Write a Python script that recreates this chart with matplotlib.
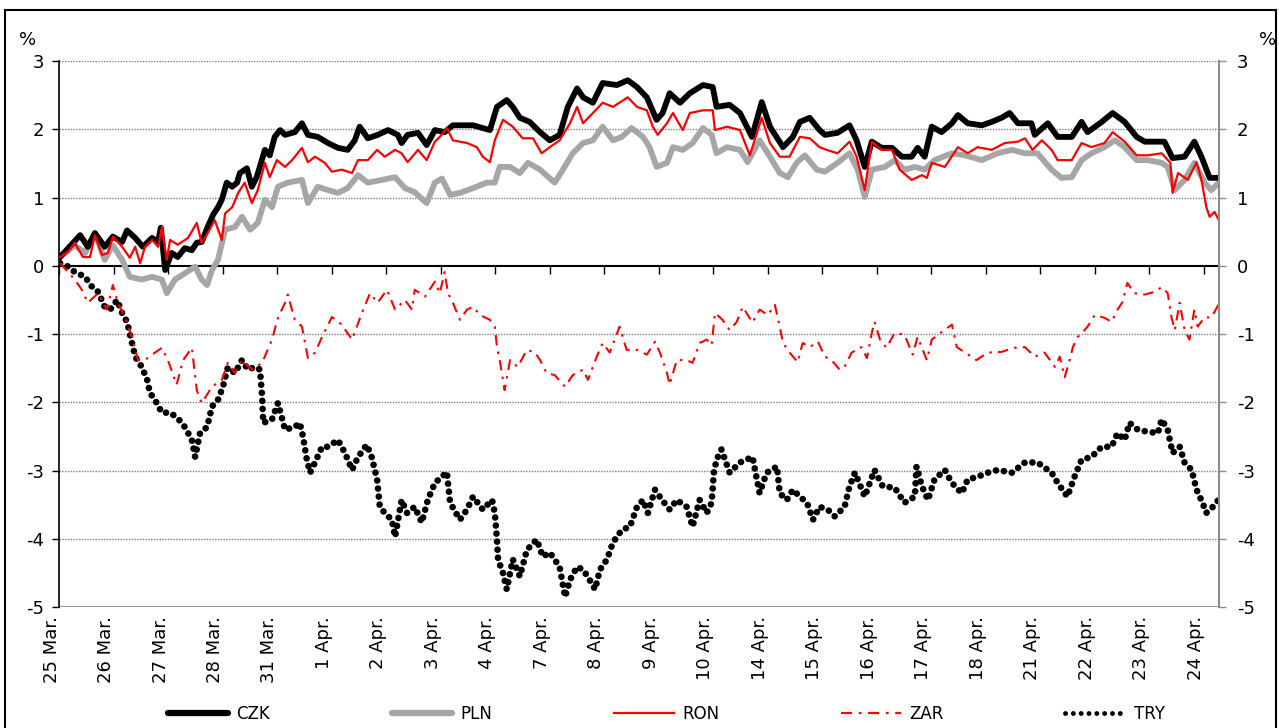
import matplotlib
matplotlib.use("Agg")
import matplotlib.pyplot as plt
from matplotlib import transforms
from matplotlib.patches import Rectangle
from matplotlib.lines import Line2D

plt.rcParams['font.family'] = ['DejaVu Sans']
plt.rcParams['axes.unicode_minus'] = False

# ---------------- data (trading-day index since 25 Mar, % change) ----------------
day_labels = ["25 Mar.", "26 Mar.", "27 Mar.", "28 Mar.", "31 Mar.", "1 Apr.", "2 Apr.",
              "3 Apr.", "4 Apr.", "7 Apr.", "8 Apr.", "9 Apr.", "10 Apr.", "14 Apr.",
              "15 Apr.", "16 Apr.", "17 Apr.", "18 Apr.", "21 Apr.", "22 Apr.", "23 Apr.",
              "24 Apr."]

czk_t = [0.01, 0.38, 0.52, 0.65, 0.83, 0.98, 1.15, 1.24, 1.39, 1.53, 1.70, 1.81, 1.86, 1.94,
         2.06, 2.17, 2.30, 2.43, 2.52, 2.61, 2.72, 2.82, 2.91, 2.98, 3.07, 3.17, 3.26, 3.31,
         3.44, 3.53, 3.62, 3.77, 3.86, 3.95, 4.05, 4.14, 4.32, 4.45, 4.56, 4.74, 4.93, 5.11,
         5.29, 5.42, 5.51, 5.66, 5.84, 6.03, 6.21, 6.28, 6.39, 6.58, 6.74, 6.89, 7.07, 7.22,
         7.59, 7.90, 8.03, 8.21, 8.32, 8.45, 8.63, 8.82, 9.00, 9.18, 9.33, 9.50, 9.61, 9.79,
         9.97, 10.23, 10.43, 10.60, 10.78, 10.96, 11.07, 11.20, 11.39, 11.57, 11.81, 11.99,
         12.06, 12.30, 12.49, 12.71, 12.89, 13.04, 13.28, 13.46, 13.59, 13.77, 13.95, 14.05,
         14.28, 14.50, 14.63, 14.78, 14.91, 15.09, 15.28, 15.46, 15.64, 15.75, 15.88, 16.01,
         16.19, 16.38, 16.49, 16.67, 16.93, 17.11, 17.29, 17.44, 17.59, 17.84, 17.90, 18.14,
         18.32, 18.58, 18.76, 18.87, 19.13, 19.33, 19.55, 19.77, 19.92, 20.16, 20.28, 20.43,
         20.65, 20.83, 20.96, 21.11, 21.28]
czk_v = [0.13, 0.45, 0.28, 0.48, 0.28, 0.43, 0.35, 0.52, 0.41, 0.28, 0.41, 0.35, 0.56, -0.06,
         0.19, 0.13, 0.26, 0.23, 0.34, 0.35, 0.57, 0.75, 0.86, 0.97, 1.22, 1.16, 1.22, 1.36,
         1.43, 1.16, 1.30, 1.70, 1.62, 1.89, 1.99, 1.92, 1.96, 2.09, 1.92, 1.89, 1.80, 1.73,
         1.70, 1.84, 2.04, 1.87, 1.92, 1.99, 1.92, 1.80, 1.92, 1.95, 1.77, 1.99, 1.96, 2.06,
         2.06, 1.99, 2.33, 2.43, 2.33, 2.17, 2.11, 1.96, 1.84, 1.92, 2.33, 2.60, 2.47, 2.39,
         2.68, 2.65, 2.72, 2.62, 2.47, 2.14, 2.24, 2.53, 2.39, 2.53, 2.65, 2.62,
         2.33, 2.36, 2.24, 1.89, 2.40, 2.04, 1.74, 1.89, 2.11, 2.17, 1.99, 1.92,
         1.95, 2.06, 1.84, 1.45, 1.82, 1.73, 1.73, 1.60, 1.60, 1.73, 1.60, 2.04,
         1.96, 2.09, 2.21, 2.09, 2.06, 2.11, 2.17, 2.24, 2.09, 2.09, 1.92, 2.09,
         1.89, 1.89, 2.11, 1.96, 2.11, 2.24, 2.11, 1.89, 1.82, 1.82, 1.82, 1.58,
         1.60, 1.82, 1.60, 1.29, 1.29]

pln_t = [0.01, 0.28, 0.47, 0.65, 0.83, 0.98, 1.15, 1.29, 1.51, 1.70, 1.88, 1.97, 2.12, 2.30,
         2.49, 2.61, 2.71, 2.80, 2.91, 3.04, 3.22, 3.35, 3.50, 3.64, 3.77, 3.90, 4.01, 4.19,
         4.45, 4.56, 4.74, 4.93, 5.11, 5.29, 5.48, 5.66, 5.92, 6.16, 6.34, 6.52, 6.74, 6.89,
         7.02, 7.17, 7.35, 7.59, 7.84, 7.99, 8.08, 8.27, 8.45, 8.60, 8.82, 9.09, 9.24, 9.42,
         9.61, 9.79, 9.97, 10.16, 10.32, 10.50, 10.71, 10.83, 10.96, 11.15, 11.26, 11.44,
         11.62, 11.81, 11.97, 12.06, 12.25, 12.49, 12.63, 12.85, 13.04, 13.22, 13.37, 13.53,
         13.68, 13.90, 14.05, 14.28, 14.50, 14.65, 14.78, 14.91, 15.15, 15.33, 15.51, 15.70,
         15.88, 16.06, 16.38, 16.62, 16.93, 17.22, 17.48, 17.72, 17.95, 18.21, 18.39, 18.58,
         18.76, 18.94, 19.18, 19.37, 19.55, 19.77, 19.97, 20.23, 20.34, 20.47, 20.65, 20.83,
         21.02, 21.14, 21.28]
pln_v = [0.13, 0.30, 0.19, 0.48, 0.09, 0.30, 0.09, -0.16, -0.20, -0.16, -0.20, -0.40, -0.20,
         -0.11, -0.01, -0.20, -0.28, -0.06, 0.09, 0.53, 0.57, 0.72, 0.53, 0.63, 0.97, 0.86,
         1.16, 1.22, 1.26, 0.92, 1.16, 1.11, 1.07, 1.14, 1.33, 1.22, 1.26, 1.30, 1.14, 1.08,
         0.92, 1.22, 1.28, 1.04, 1.07, 1.14, 1.22, 1.22, 1.45, 1.45, 1.36, 1.51, 1.41, 1.22,
         1.41, 1.65, 1.80, 1.84, 2.04, 1.84, 1.89, 2.02, 1.89, 1.74, 1.45, 1.51, 1.74, 1.70,
         1.80, 2.02, 1.92, 1.65, 1.74, 1.70, 1.52, 1.84, 1.60, 1.36, 1.30, 1.51, 1.62, 1.41,
         1.38, 1.51, 1.65, 1.41, 1.01, 1.41, 1.45, 1.55, 1.41, 1.45, 1.41, 1.55, 1.65, 1.62,
         1.55, 1.65, 1.70, 1.65, 1.65, 1.41, 1.29, 1.30, 1.55, 1.65, 1.74, 1.84, 1.74, 1.55,
         1.55, 1.51, 1.45, 1.11, 1.26, 1.51, 1.22, 1.11, 1.22]

ron_t = [0.01, 0.16, 0.28, 0.43, 0.56, 0.65, 0.78, 0.89, 0.98, 1.15, 1.29, 1.39, 1.48, 1.57,
         1.70, 1.81, 1.88, 1.97, 2.03, 2.17, 2.36, 2.52, 2.61, 2.72, 2.85, 2.98, 3.04, 3.17,
         3.28, 3.40, 3.53, 3.64, 3.77, 3.86, 3.99, 4.14, 4.27, 4.45, 4.56, 4.69, 4.87, 5.00,
         5.18, 5.37, 5.48, 5.66, 5.83, 5.97, 6.16, 6.28, 6.39, 6.58, 6.74, 6.89, 6.98, 7.11,
         7.22, 7.48, 7.66, 7.77, 7.90, 7.99, 8.14, 8.32, 8.50, 8.69, 8.85, 9.00, 9.18, 9.37,
         9.50, 9.61, 9.79, 9.97, 10.16, 10.43, 10.60, 10.78, 10.89, 10.98, 11.15, 11.26,
         11.44, 11.57, 11.81, 11.99, 12.03, 12.25, 12.49, 12.67, 12.89, 13.04, 13.22, 13.40,
         13.59, 13.77, 13.95, 14.08, 14.28, 14.50, 14.63, 14.78, 14.91, 15.09, 15.28, 15.42,
         15.64, 15.83, 15.92, 16.01, 16.25, 16.49, 16.67, 16.85, 17.11, 17.35, 17.59, 17.72,
         17.86, 18.03, 18.21, 18.32, 18.58, 18.76, 18.94, 19.18, 19.33, 19.55, 19.77, 19.97,
         20.23, 20.39, 20.43, 20.53, 20.71, 20.87, 20.96, 21.05, 21.11, 21.20, 21.28]
ron_v = [0.13, 0.21, 0.34, 0.13, 0.13, 0.45, 0.16, 0.19, 0.43, 0.28, 0.12, 0.28, 0.04, 0.28,
         0.38, 0.28, 0.57, 0.09, 0.38, 0.31, 0.41, 0.63, 0.34, 0.48, 0.67, 0.38, 0.77, 0.86,
         1.07, 1.22, 0.92, 1.11, 1.51, 1.30, 1.55, 1.45, 1.55, 1.73, 1.52, 1.60, 1.51, 1.38,
         1.41, 1.36, 1.55, 1.55, 1.70, 1.60, 1.70, 1.65, 1.52, 1.70, 1.55, 1.82, 1.89, 2.02,
         1.84, 1.80, 1.74, 1.60, 1.52, 1.84, 2.14, 2.04, 1.87, 1.87, 1.65, 1.74, 1.84, 2.09,
         2.33, 2.09, 2.24, 2.39, 2.33, 2.47, 2.33, 2.28, 2.04, 1.92, 2.09, 2.24,
         1.99, 2.24, 2.28, 2.28, 1.99, 2.04, 1.99, 1.62, 2.17, 1.80, 1.60, 1.60,
         1.89, 1.87, 1.74, 1.70, 1.65, 1.82, 1.60, 1.11, 1.82, 1.70, 1.70, 1.41,
         1.26, 1.33, 1.29, 1.51, 1.45, 1.74, 1.65, 1.74, 1.70, 1.80, 1.82, 1.87,
         1.70, 1.84, 1.70, 1.55, 1.55, 1.80, 1.74, 1.80, 1.96, 1.82, 1.62, 1.62,
         1.65, 1.51, 1.07, 1.36, 1.26, 1.52, 1.26, 0.86, 0.72, 0.79, 0.67]

zar_t = [0.01, 0.28, 0.41, 0.52, 0.71, 0.87, 0.98, 1.07, 1.20, 1.33, 1.44, 1.57, 1.70, 1.88,
         1.99, 2.15, 2.27, 2.43, 2.52, 2.61, 2.80, 2.98, 3.09, 3.22, 3.35, 3.53, 3.72, 3.90,
         4.01, 4.14, 4.19, 4.32, 4.45, 4.56, 4.69, 4.82, 5.00, 5.18, 5.37, 5.55, 5.70, 5.84,
         6.01, 6.16, 6.34, 6.47, 6.52, 6.71, 6.89, 6.98, 7.07, 7.13, 7.22, 7.35, 7.48, 7.59,
         7.72, 7.90, 7.99, 8.03, 8.08, 8.17, 8.27, 8.41, 8.58, 8.73, 8.82, 8.94, 9.09, 9.28,
         9.42, 9.61, 9.70, 9.86, 9.97, 10.10, 10.28, 10.41, 10.60, 10.78, 10.93, 11.02, 11.15,
         11.20, 11.33, 11.51, 11.62, 11.75, 11.88, 11.97, 12.03, 12.17, 12.30, 12.43, 12.54,
         12.72, 12.85, 13.00, 13.13, 13.22, 13.28, 13.40, 13.55, 13.64, 13.77, 13.92, 14.05,
         14.17, 14.32, 14.41, 14.54, 14.72, 14.82, 14.91, 14.96, 15.06, 15.18, 15.33, 15.51,
         15.66, 15.75, 15.92, 16.01, 16.19, 16.38, 16.47, 16.62, 16.83, 17.04, 17.29, 17.53,
         17.72, 17.90, 18.08, 18.27, 18.36, 18.45, 18.54, 18.60, 18.69, 18.78, 18.87, 19.00,
         19.18, 19.31, 19.42, 19.51, 19.60, 19.73, 19.92, 20.10, 20.23, 20.34, 20.41, 20.47,
         20.56, 20.65, 20.74, 20.83, 20.89, 21.02, 21.14, 21.27]
zar_v = [0.04, -0.20, -0.35, -0.54, -0.40, -0.64, -0.28, -0.54, -0.75, -1.04, -1.38, -1.38,
         -1.30, -1.20, -1.38, -1.74, -1.38, -1.20, -1.82, -2.01, -1.77, -1.67, -1.42, -1.57,
         -1.38, -1.52, -1.42, -1.08, -0.76, -0.54, -0.42, -0.79, -0.89, -1.35, -1.27, -1.04,
         -0.75, -0.86, -1.08, -0.69, -0.40, -0.54, -0.35, -0.64, -0.50, -0.64, -0.35, -0.45,
         -0.23, -0.40, -0.09, -0.40, -0.54, -0.79, -0.64, -0.60, -0.72, -0.79, -0.89, -1.19,
         -1.38, -1.82, -1.38, -1.48, -1.23, -1.27, -1.38, -1.57, -1.60, -1.77, -1.60, -1.52,
         -1.67, -1.33, -1.13, -1.27, -0.89, -1.23, -1.23, -1.30, -1.11, -1.27, -1.57, -1.74,
         -1.38, -1.38, -1.42, -1.13, -1.08, -1.16, -0.69, -0.79, -0.94, -0.82, -0.60, -0.83,
         -0.64, -0.72, -0.57, -0.89, -1.13, -1.27, -1.41, -1.13, -1.19, -1.11, -1.33, -1.38,
         -1.52, -1.48, -1.27, -1.19, -1.35, -0.98, -0.82, -1.08, -1.20, -0.98, -1.01, -1.30,
         -1.04, -1.38, -1.08, -0.97, -0.86, -1.19, -1.27, -1.38, -1.27, -1.26, -1.20, -1.19,
         -1.33, -1.27, -1.48, -1.33, -1.63, -1.38, -1.19, -1.04, -0.97, -0.89, -0.72, -0.76,
         -0.82, -0.64, -0.53, -0.25, -0.40, -0.42, -0.38, -0.31, -0.40, -0.75, -0.94, -0.54,
         -0.94, -1.08, -0.64, -0.89, -0.75, -0.76, -0.57]

try_t = [0.01, 0.16, 0.28, 0.47, 0.60, 0.71, 0.83, 0.93, 1.06, 1.15, 1.24, 1.33, 1.39, 1.51,
         1.61, 1.66, 1.75, 1.88, 2.03, 2.17, 2.30, 2.43, 2.49, 2.58, 2.71, 2.80, 2.91, 3.00,
         3.09, 3.22, 3.35, 3.46, 3.59, 3.68, 3.72, 3.74, 3.90, 4.01, 4.14, 4.32, 4.41, 4.47,
         4.54, 4.60, 4.69, 4.82, 4.93, 5.11, 5.24, 5.37, 5.48, 5.64, 5.73, 5.83, 5.88, 5.97,
         6.10, 6.16, 6.28, 6.38, 6.52, 6.65, 6.76, 6.89, 7.02, 7.11, 7.17, 7.35, 7.48, 7.59,
         7.77, 7.94, 7.99, 8.03, 8.05, 8.14, 8.21, 8.32, 8.45, 8.58, 8.76, 8.87, 9.00, 9.18,
         9.28, 9.37, 9.50, 9.61, 9.73, 9.83, 9.92, 10.05, 10.16, 10.32, 10.47, 10.60, 10.71,
         10.80, 10.93, 11.06, 11.20, 11.33, 11.51, 11.62, 11.75, 11.88, 11.97, 12.01, 12.06,
         12.15, 12.30, 12.49, 12.72, 12.85, 12.98, 13.17, 13.22, 13.35, 13.46, 13.59, 13.72,
         13.83, 13.95, 14.10, 14.23, 14.41, 14.50, 14.60, 14.78, 14.96, 15.11, 15.33, 15.51,
         15.70, 15.73, 15.83, 15.94, 16.06, 16.25, 16.38, 16.56, 16.67, 16.85, 17.04, 17.22,
         17.48, 17.72, 17.95, 18.21, 18.32, 18.50, 18.63, 18.76, 18.94, 19.13, 19.31, 19.42,
         19.55, 19.64, 19.79, 19.97, 20.16, 20.23, 20.34, 20.43, 20.56, 20.65, 20.78, 20.87,
         20.98, 21.05, 21.17, 21.27]
try_v = [0.04, -0.01, -0.09, -0.16, -0.31, -0.38, -0.60, -0.64, -0.50, -0.69, -0.82, -1.13,
         -1.33, -1.48, -1.67, -1.86, -1.96, -2.15, -2.15, -2.23, -2.36, -2.55, -2.80, -2.45,
         -2.36, -2.06, -1.96, -1.77, -1.49, -1.57, -1.38, -1.52, -1.48, -1.52, -1.92, -2.30,
         -2.25, -2.01, -2.40, -2.36, -2.30, -2.50, -2.84, -3.03, -2.88, -2.65, -2.65, -2.55,
         -2.74, -2.99, -2.80, -2.62, -2.80, -3.13, -3.53, -3.62, -3.72, -3.97, -3.43, -3.62,
         -3.53, -3.76, -3.43, -3.18, -3.09, -3.02, -3.47, -3.72, -3.57, -3.38, -3.57, -3.43,
         -3.62, -4.01, -4.30, -4.50, -4.74, -4.30, -4.55, -4.16, -4.01, -4.26, -4.20, -4.41,
         -4.85, -4.60, -4.41, -4.45, -4.60, -4.74, -4.45, -4.30, -4.05, -3.87, -3.82, -3.53,
         -3.43, -3.62, -3.28, -3.43, -3.57, -3.43, -3.53, -3.82, -3.43, -3.62, -3.47, -3.03,
         -2.84, -2.69, -3.03, -2.88, -2.80, -3.33, -3.03, -2.94, -3.33, -3.43, -3.28, -3.38,
         -3.47, -3.72, -3.53, -3.57, -3.67, -3.53, -3.23, -3.03, -3.38, -2.99, -3.23, -3.25,
         -3.47, -3.38, -2.94, -3.23, -3.43, -3.13, -2.99, -3.18, -3.33, -3.13, -3.09, -3.03,
         -2.99, -3.03, -2.88, -2.88, -3.03, -3.18, -3.38, -3.09, -2.84, -2.80, -2.65, -2.65,
         -2.45, -2.55, -2.30, -2.40, -2.43, -2.45, -2.25, -2.40, -2.74, -2.65, -2.88, -2.99,
         -3.28, -3.47, -3.62, -3.53, -3.43]

y_ticks = [3, 2, 1, 0, -1, -2, -3, -4, -5]

# ---------------- figure ----------------
fig = plt.figure(figsize=(12.79, 7.28), dpi=100)
ax = fig.add_axes([0.0465, 0.166, 0.9065, 0.750])

GRAY = "#A6A6A6"
RED = "#FF0000"

# gridlines
for yv in y_ticks:
    if yv == 0 or yv == -5:
        continue
    ax.axhline(yv, color="#7F7F7F", lw=1.0, ls=(0, (1, 1)), zorder=1)
ax.axhline(-5, color="#7F7F7F", lw=1.2, zorder=1)

ax.plot(try_t, try_v, color="black", lw=4.8, ls=(0, (0.01, 1.2)),
        dash_capstyle="round", solid_capstyle="round", zorder=3, label="TRY")
ax.plot(zar_t, zar_v, color=RED, lw=1.5, ls=(0, (5, 3, 1.2, 3)), zorder=3, label="ZAR")
ax.plot(pln_t, pln_v, color=GRAY, lw=4.2, zorder=4, label="PLN")
ax.plot(czk_t, czk_v, color="black", lw=4.2, zorder=5, label="CZK")
ax.plot(ron_t, ron_v, color=RED, lw=1.6, zorder=6, label="RON")

ax.set_xlim(0, 21.28)
ax.set_ylim(-5, 3)

# x axis on the zero line
ax.spines['bottom'].set_position(('data', 0))
ax.spines['bottom'].set_linewidth(1.5)
ax.spines['bottom'].set_zorder(2.5)
ax.spines['top'].set_visible(False)
ax.spines['right'].set_visible(False)
ax.spines['left'].set_color("black")
ax.spines['left'].set_linewidth(1.2)
ax.set_xticks(range(len(day_labels)))
ax.tick_params(axis='x', direction='out', length=6, width=1, labelbottom=False)
ax.set_yticks(y_ticks)
ax.tick_params(axis='y', direction='out', length=5, width=1, labelsize=13, pad=6)

trans = transforms.blended_transform_factory(ax.transData, ax.transAxes)
for i, lab in enumerate(day_labels):
    ax.text(i + 0.02, -0.016, lab, transform=trans, rotation=90, ha='right', va='top',
            fontsize=13)

# right axis
ax2 = ax.twinx()
ax2.set_ylim(-5, 3)
ax2.set_yticks(y_ticks)
for s in ['left', 'top', 'bottom']:
    ax2.spines[s].set_visible(False)
ax2.spines['right'].set_color("#8C8C8C")
ax2.spines['right'].set_linewidth(1.5)
ax2.tick_params(axis='y', direction='out', length=5, width=1, colors="#8C8C8C",
                labelcolor="black", labelsize=13, pad=8)

fig.text(28 / 1279, 1 - 40 / 728, "%", fontsize=13, ha='center', va='center')
fig.text(1268 / 1279, 1 - 40 / 728, "%", fontsize=13, ha='center', va='center')

# legend
handles = [Line2D([], [], color="black", lw=4.5, solid_capstyle="round"),
           Line2D([], [], color=GRAY, lw=4.5, solid_capstyle="round"),
           Line2D([], [], color=RED, lw=1.6),
           Line2D([], [], color=RED, lw=1.6, ls=(0, (5, 3, 1.2, 3))),
           Line2D([], [], color="black", lw=3.5, ls=(0, (0.01, 1.6)), dash_capstyle="round")]
fig.legend(handles, ["CZK", "PLN", "RON", "ZAR", "TRY"], loc='center',
           bbox_to_anchor=(0.521, 0.019), ncol=5, frameon=False, fontsize=12,
           handlelength=3.6, handletextpad=0.5, columnspacing=7.3)

# outer frame
fig.patches.append(Rectangle((5 / 1279, -0.01), 1271 / 1279, 1 - 10 / 728 + 0.01,
                             transform=fig.transFigure, fill=False, lw=1.5,
                             edgecolor="black", zorder=0))

fig.savefig("out.png", dpi=100)
